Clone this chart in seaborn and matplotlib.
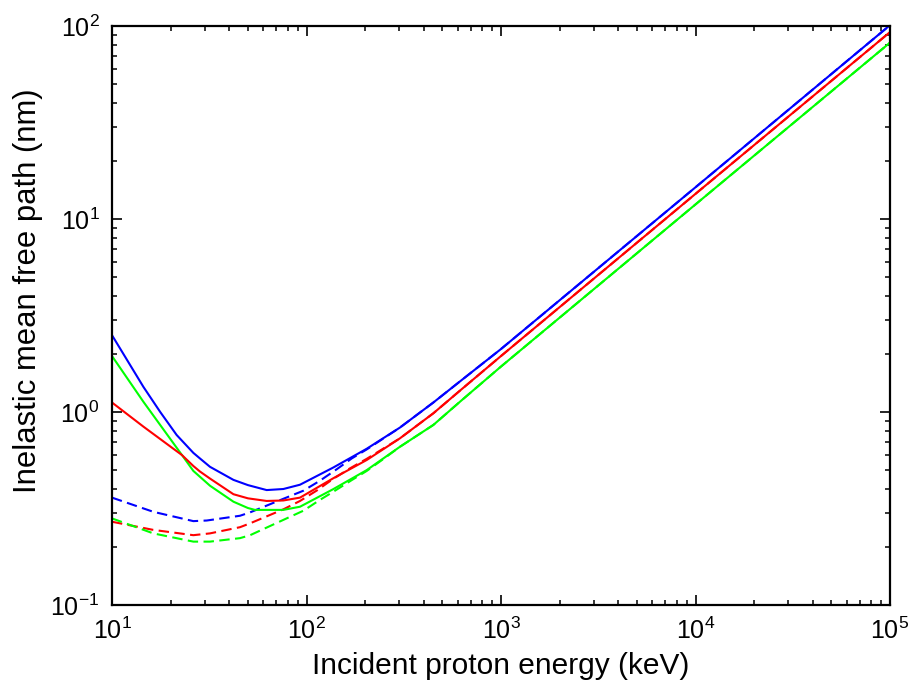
import matplotlib
matplotlib.use("Agg")
import matplotlib.pyplot as plt
import seaborn as sns
import numpy as np
import pandas as pd
from matplotlib.ticker import LogLocator, NullFormatter

# ---- data ----
blue_solid_x = [10, 14.5, 17.7, 21.5, 26.2, 28.3, 31.9, 42.1, 50, 62.4, 76, 92.6, 137, 204, 302, 449, 615, 1000, 1e4, 1e5]
blue_solid_y = [2.5, 1.35, 1.0, 0.76, 0.614, 0.575, 0.52, 0.445, 0.418, 0.394, 0.399, 0.42, 0.515, 0.645, 0.83, 1.12, 1.44, 2.12, 14.6, 101]

red_solid_x = [10, 14.5, 22.9, 26.2, 28.3, 31.9, 42.1, 50, 62.4, 76, 92.6, 137, 204, 302, 449, 615, 1000, 1e4, 1e5]
red_solid_y = [1.12, 0.84, 0.598, 0.525, 0.492, 0.452, 0.375, 0.357, 0.346, 0.348, 0.36, 0.453, 0.564, 0.73, 0.985, 1.29, 1.95, 13.5, 93]

green_solid_x = [10, 14.5, 22.9, 26.2, 28.3, 31.9, 42.1, 50, 54.3, 76, 92.6, 137, 204, 302, 449, 615, 1000, 1e4, 1e5]
green_solid_y = [1.95, 1.13, 0.598, 0.495, 0.462, 0.415, 0.343, 0.318, 0.311, 0.311, 0.323, 0.398, 0.5, 0.66, 0.857, 1.13, 1.72, 11.9, 82]

blue_dash_x = [10, 16.3, 26.2, 30.7, 45.5, 51.3, 76, 96.4, 117, 143, 171, 204, 302, 449, 615, 1000, 1e4, 1e5]
blue_dash_y = [0.36, 0.304, 0.272, 0.274, 0.29, 0.302, 0.355, 0.391, 0.44, 0.505, 0.575, 0.64, 0.83, 1.12, 1.44, 2.12, 14.6, 101]

red_dash_x = [10, 16.3, 26.2, 31.9, 45.5, 51.3, 76, 92.6, 113, 137, 167, 204, 302, 449, 615, 1000, 1e4, 1e5]
red_dash_y = [0.27, 0.245, 0.23, 0.235, 0.253, 0.265, 0.313, 0.346, 0.392, 0.45, 0.51, 0.572, 0.73, 0.985, 1.29, 1.95, 13.5, 93]

green_dash_x = [10, 16.3, 26.2, 31.9, 45.5, 51.3, 76, 96.4, 117, 140, 171, 204, 248, 302, 449, 615, 1000, 1e4, 1e5]
green_dash_y = [0.281, 0.235, 0.213, 0.213, 0.222, 0.23, 0.276, 0.308, 0.35, 0.391, 0.444, 0.495, 0.57, 0.66, 0.857, 1.13, 1.72, 11.9, 82]

x_label = "Incident proton energy (keV)"
y_label = "Inelastic mean free path (nm)"

BLUE, RED, GREEN = "#0000FF", "#FF0000", "#00FF00"

sns.set_theme(style="ticks")
plt.rcParams["font.family"] = ["Liberation Sans", "DejaVu Sans"]
plt.rcParams["mathtext.fontset"] = "custom"
plt.rcParams["mathtext.rm"] = "Liberation Sans"
plt.rcParams["mathtext.it"] = "Liberation Sans:italic"
plt.rcParams["text.color"] = "black"
plt.rcParams["axes.labelcolor"] = "black"
plt.rcParams["xtick.color"] = "black"
plt.rcParams["ytick.color"] = "black"
plt.rcParams["lines.solid_joinstyle"] = "round"
plt.rcParams["lines.dash_joinstyle"] = "round"

fig = plt.figure(figsize=(9.08, 6.82), dpi=100)
ax = fig.add_axes([112/908, 1-605/682, (890-112)/908, (605-26)/682])

series = [
    (blue_dash_x, blue_dash_y, BLUE, "--"),
    (red_dash_x, red_dash_y, RED, "--"),
    (green_dash_x, green_dash_y, GREEN, "--"),
    (green_solid_x, green_solid_y, GREEN, "-"),
    (red_solid_x, red_solid_y, RED, "-"),
    (blue_solid_x, blue_solid_y, BLUE, "-"),
]
for xs, ys, c, ls in series:
    df = pd.DataFrame({"x": xs, "y": ys})
    sns.lineplot(data=df, x="x", y="y", ax=ax, color=c,
                 linewidth=1.5, sort=False, estimator=None)
    line = ax.lines[-1]
    if ls == "--":
        line.set_dashes([5, 2.6])

ax.set_xscale("log")
ax.set_yscale("log")
ax.set_xlim(10, 1e5)
ax.set_ylim(0.1, 100)

ax.xaxis.set_major_locator(LogLocator(base=10, numticks=10))
ax.yaxis.set_major_locator(LogLocator(base=10, numticks=10))
ax.xaxis.set_minor_locator(LogLocator(base=10, subs=np.arange(2, 10), numticks=20))
ax.yaxis.set_minor_locator(LogLocator(base=10, subs=np.arange(2, 10), numticks=20))
ax.xaxis.set_minor_formatter(NullFormatter())
ax.yaxis.set_minor_formatter(NullFormatter())

for s in ax.spines.values():
    s.set_visible(True)
    s.set_linewidth(1.6)
    s.set_color("black")

ax.tick_params(which="both", direction="in", top=True, right=True, color="black")
ax.tick_params(which="major", length=7.5, width=1.2, labelsize=18, pad=9)
ax.tick_params(which="minor", length=3.8, width=1.1)

ax.set_xlabel(x_label, fontsize=21.5, labelpad=6)
ax.set_ylabel(y_label, fontsize=22.3)
ax.yaxis.set_label_coords(-0.089, 0.542)

fig.savefig("out.png", dpi=100)
